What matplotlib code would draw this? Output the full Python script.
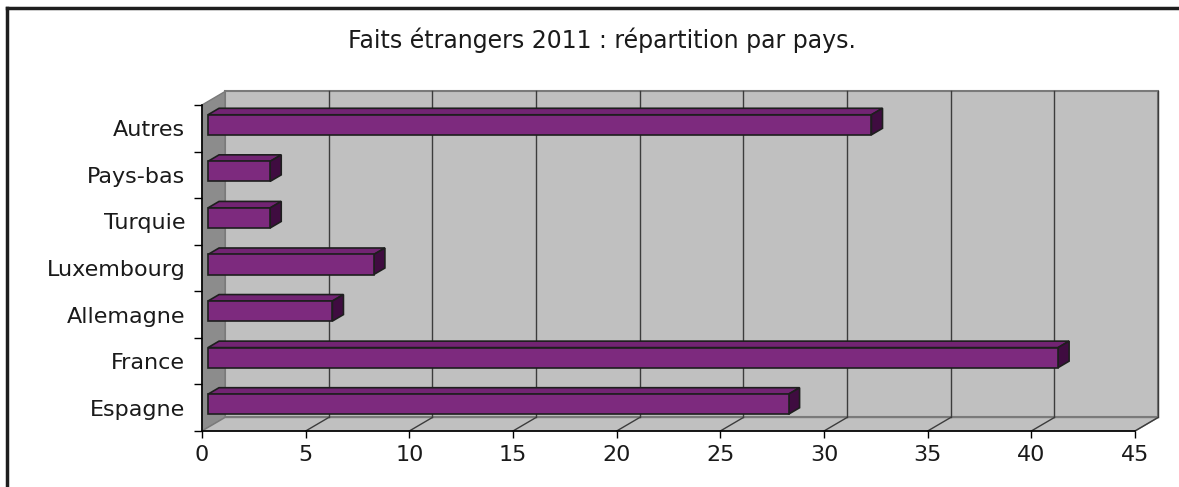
import matplotlib
matplotlib.use("Agg")
import matplotlib.pyplot as plt
from matplotlib.patches import Polygon

# foreign cases in 2011, split by country
pays = ["Espagne", "France", "Allemagne", "Luxembourg", "Turquie", "Pays-bas", "Autres"]
faits = [28, 41, 6, 8, 3, 3, 32]
x_ticks = [0, 5, 10, 15, 20, 25, 30, 35, 40, 45]
titre = "Faits étrangers 2011 : répartition par pays."

plt.rcParams["font.family"] = ["DejaVu Sans"]

fig = plt.figure(figsize=(11.79, 4.87), dpi=100)
ax = fig.add_axes([202 / 1179, 56 / 487, 933 / 1179, 326 / 487])
ax.set_xlim(0, 45)
ax.set_ylim(0, len(pays))

# depth of the 3d box, in data units
DX, DY = 1.11, 0.29
xmax = x_ticks[-1]
n = len(pays)

wall = "#c0c0c0"
side_wall = "#8c8c8c"
edge = "#7a7a7a"

# back wall, left wall, floor
ax.add_patch(Polygon([(DX, DY), (xmax + DX, DY), (xmax + DX, n + DY), (DX, n + DY)],
                     closed=True, fc=wall, ec=edge, lw=1.5, clip_on=False, zorder=1))
ax.add_patch(Polygon([(0, 0), (DX, DY), (DX, n + DY), (0, n)],
                     closed=True, fc=side_wall, ec=edge, lw=1, clip_on=False, zorder=1))
ax.add_patch(Polygon([(0, 0), (xmax, 0), (xmax + DX, DY), (DX, DY)],
                     closed=True, fc=wall, ec=edge, lw=1, clip_on=False, zorder=1))

# gridlines on the back wall and floor
for v in x_ticks[1:]:
    ax.plot([v + DX, v + DX], [DY, n + DY], color="#3c3c3c", lw=1, clip_on=False, zorder=2)
    ax.plot([v, v + DX], [0, DY], color="#3c3c3c", lw=1, clip_on=False, zorder=2)

# front axis lines
ax.plot([0, xmax], [0, 0], color="black", lw=1.2, clip_on=False, zorder=3)
ax.plot([0, 0], [0, n], color="black", lw=1.2, clip_on=False, zorder=3)

# 3d bars
f0, bd, h = 0.26, 0.48, 0.43
front_c, top_c, side_c = "#7d2a7e", "#722473", "#3f0c40"
for i, v in enumerate(faits):
    x0 = f0 * DX
    x1 = v + f0 * DX
    yb = i + 0.5 - h / 2 + f0 * DY
    yt = yb + h
    ox, oy = bd * DX, bd * DY
    ax.add_patch(Polygon([(x0, yt), (x1, yt), (x1 + ox, yt + oy), (x0 + ox, yt + oy)],
                         closed=True, fc=top_c, ec="#1e1e1e", lw=1.2, clip_on=False, zorder=4))
    ax.add_patch(Polygon([(x1, yb), (x1 + ox, yb + oy), (x1 + ox, yt + oy), (x1, yt)],
                         closed=True, fc=side_c, ec="#1e1e1e", lw=1.2, clip_on=False, zorder=4))
    ax.add_patch(Polygon([(x0, yb), (x1, yb), (x1, yt), (x0, yt)],
                         closed=True, fc=front_c, ec="#1e1e1e", lw=1.2, clip_on=False, zorder=5))

for s in ax.spines.values():
    s.set_visible(False)
ax.patch.set_visible(False)

ax.set_xticks(x_ticks)
ax.set_xticklabels([str(t) for t in x_ticks], fontsize=16, color="#1a1a1a")
ax.set_yticks([i for i in range(n + 1)], minor=False)
ax.set_yticklabels([""] * (n + 1))
ax.set_yticks([i + 0.5 for i in range(n)], minor=True)
ax.set_yticklabels(pays, minor=True, fontsize=16, color="#1a1a1a")
ax.tick_params(axis="y", which="minor", length=0, pad=12)
ax.tick_params(axis="y", which="major", length=6, width=1, direction="out")
ax.tick_params(axis="x", length=5, width=1, direction="out", pad=5)

fig.text(602 / 1179, 1 - 40 / 487, titre, ha="center", va="center", fontsize=17, color="#1a1a1a")

# outer frame (top and left edges)
fig.add_artist(plt.Line2D([7 / 1179, 1], [1 - 8 / 487, 1 - 8 / 487], color="#1e1e1e", lw=2.5))
fig.add_artist(plt.Line2D([7 / 1179, 7 / 1179], [0, 1 - 8 / 487], color="#1e1e1e", lw=2.5))

fig.savefig("out.png", dpi=100)
